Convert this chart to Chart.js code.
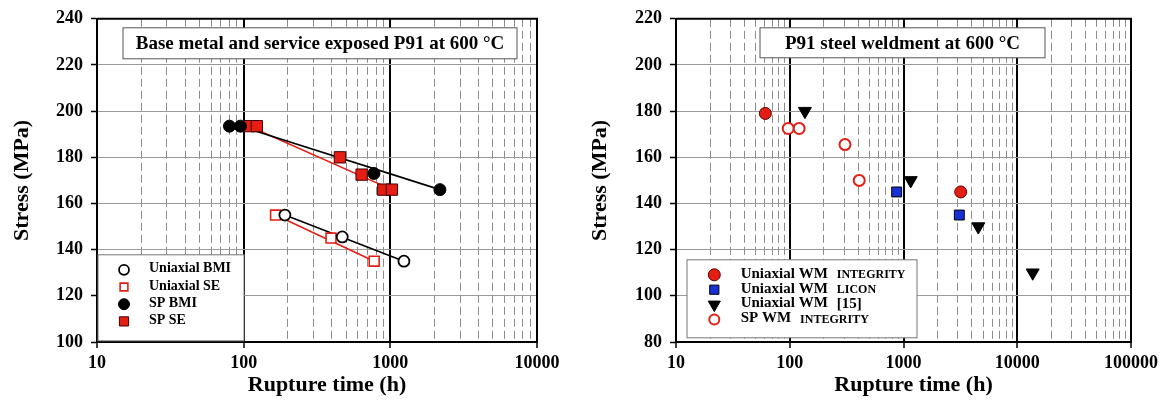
<!DOCTYPE html>
<html>
<head>
<meta charset="utf-8">
<script src="https://cdn.jsdelivr.net/npm/chart.js@4.4.1/dist/chart.umd.min.js"></script>
<style>
  body { margin: 0; background: #fff; }
  .panel { position: absolute; top: 0; width: 583px; height: 416px; }
  #left { left: 0; }
  #right { left: 583px; }
</style>
</head>
<body>
<div class="panel" id="left"><canvas id="baseChart"></canvas></div>
<div class="panel" id="right"><canvas id="weldChart"></canvas></div>
<script>
// Base metal (BMI) and service exposed (SE) P91, rupture time (h) vs stress (MPa)
const uniBmiTime = [191, 470, 1238];
const uniBmiStress = [155, 145.5, 135];
const uniSeTime = [165, 394, 776];
const uniSeStress = [155, 145, 135];
const spBmiTime = [80, 95, 773, 2178];
const spBmiStress = [193.5, 193.5, 173, 166];
const spSeTime = [109, 123, 453, 637, 895, 1025];
const spSeStress = [193.5, 193.5, 180, 172.5, 166, 166];

// trend lines through each series
const spBmiFitTime = [95, 2178];
const spBmiFitStress = [193.5, 166];
const spSeFitTime = [109, 1025];
const spSeFitStress = [193.5, 166];
const uniBmiFitTime = [191, 1238];
const uniBmiFitStress = [155, 135];
const uniSeFitTime = [165, 776];
const uniSeFitStress = [155, 135];

// Weld metal (WM)
const wmIntTime = [61, 3184];
const wmIntStress = [179, 145];
const wmLiconTime = [871, 3095];
const wmLiconStress = [145, 135];
const wmRefTime = [136, 1157, 4545, 13670];
const wmRefStress = [180, 150, 130, 110];
const spWmTime = [97, 121, 306, 408];
const spWmStress = [172.5, 172.5, 165.5, 150];

// axis ticks
const baseTimeTicks = [10, 100, 1000, 10000];
const baseStressTicks = [100, 120, 140, 160, 180, 200, 220, 240];
const weldTimeTicks = [10, 100, 1000, 10000, 100000];
const weldStressTicks = [80, 100, 120, 140, 160, 180, 200, 220];

const SERIF = "'Liberation Serif', 'Times New Roman', serif";
const RED = '#e41e12';
const BLUE = '#1630d8';

Chart.defaults.font.family = SERIF;
Chart.defaults.font.weight = 'bold';
Chart.defaults.color = '#000';

function pts(xs, ys) {
    return xs.map((x, i) => ({ x: x, y: ys[i] }));
}

function minorTicks(decades) {
    const out = [];
    for (let i = 0; i < decades.length - 1; i++) {
        for (let k = 2; k <= 9; k++) out.push(decades[i] * k);
    }
    return out;
}

function marks(label, xs, ys, s) {
    return {
        label: label,
        note: s.note,
        noteSize: s.noteSize,
        data: pts(xs, ys),
        showLine: false,
        pointStyle: s.shape,
        pointRotation: s.rot || 0,
        pointRadius: s.r,
        pointHoverRadius: s.r,
        pointBackgroundColor: s.fill,
        pointBorderColor: s.stroke,
        pointBorderWidth: s.bw,
        legendRadius: s.lr || s.r
    };
}

function fitLine(xs, ys, color) {
    return {
        isFit: true,
        data: pts(xs, ys),
        showLine: true,
        borderColor: color,
        borderWidth: 1.6,
        pointRadius: 0,
        pointHoverRadius: 0,
        fill: false
    };
}

function makeScales(timeTicks, stressTicks, yWidth, yTitlePad) {
    const tMin = timeTicks[0], tMax = timeTicks[timeTicks.length - 1];
    return {
        x: {
            type: 'logarithmic',
            min: tMin,
            max: tMax,
            afterBuildTicks: s => { s.ticks = timeTicks.map(v => ({ value: v })); },
            afterFit: s => { s.height = 74; },
            grid: { color: '#000', lineWidth: 2, tickColor: '#000', tickLength: 6, tickWidth: 1.5 },
            border: { color: '#000', width: 2 },
            ticks: { font: { size: 18 }, padding: 5, maxRotation: 0, autoSkip: false, callback: v => String(v) }
        },
        xMinor: {
            type: 'logarithmic',
            position: 'bottom',
            min: tMin,
            max: tMax,
            afterBuildTicks: s => { s.ticks = minorTicks(timeTicks).map(v => ({ value: v })); },
            afterFit: s => { s.height = 0; },
            grid: { color: '#8c8c8c', lineWidth: 1, drawTicks: false },
            border: { display: false, dash: [8, 4] },
            ticks: { display: false }
        },
        y: {
            min: stressTicks[0],
            max: stressTicks[stressTicks.length - 1],
            afterBuildTicks: s => { s.ticks = stressTicks.map(v => ({ value: v })); },
            afterFit: s => { s.width = yWidth; },
            grid: { color: '#9a9a9a', lineWidth: 1, tickColor: '#000', tickLength: 6, tickWidth: 1.5 },
            border: { color: '#000', width: 2 },
            ticks: { font: { size: 18 }, padding: 8 },
            title: {
                display: true,
                text: 'Stress (MPa)',
                font: { size: 22 },
                padding: { top: yTitlePad, bottom: 0 }
            }
        }
    };
}

// plot frame, boxed heading, legend and x-axis title
const panelDecor = {
    id: 'panelDecor',
    afterDatasetsDraw(chart, args, o) {
        const ctx = chart.ctx;
        const a = chart.chartArea;
        ctx.save();

        ctx.strokeStyle = '#000';
        ctx.lineWidth = 2;
        ctx.beginPath();
        ctx.moveTo(a.left, a.top);
        ctx.lineTo(a.right, a.top);
        ctx.lineTo(a.right, a.bottom);
        ctx.stroke();

        const h = o.heading;
        ctx.fillStyle = '#fff';
        ctx.fillRect(a.left + h.x, a.top + h.y, h.w, h.h);
        ctx.strokeStyle = '#555';
        ctx.lineWidth = 1;
        ctx.strokeRect(a.left + h.x, a.top + h.y, h.w, h.h);
        ctx.fillStyle = '#000';
        ctx.font = 'bold 19px ' + SERIF;
        ctx.textAlign = 'center';
        ctx.textBaseline = 'middle';
        ctx.fillText(h.text, a.left + h.x + h.w / 2, a.top + h.y + h.h / 2 + 1);

        const L = o.legend;
        ctx.fillStyle = '#fff';
        ctx.fillRect(a.left + L.x, a.top + L.y, L.w, L.h);
        ctx.strokeStyle = '#777';
        ctx.strokeRect(a.left + L.x, a.top + L.y, L.w, L.h);
        let row = 0;
        chart.data.datasets.forEach(ds => {
            if (ds.isFit) return;
            const y = a.top + L.first + row * L.step;
            ctx.fillStyle = ds.pointBackgroundColor;
            ctx.strokeStyle = ds.pointBorderColor;
            ctx.lineWidth = ds.pointBorderWidth;
            Chart.helpers.drawPoint(ctx, {
                pointStyle: ds.pointStyle,
                rotation: ds.pointRotation,
                radius: ds.legendRadius,
                borderWidth: ds.pointBorderWidth
            }, a.left + L.markX, y);
            ctx.fillStyle = '#000';
            ctx.textAlign = 'left';
            ctx.font = 'bold ' + L.size + 'px ' + SERIF;
            ctx.fillText(ds.label, a.left + L.textX, y - 1);
            if (ds.note) {
                const w = ctx.measureText(ds.label).width;
                ctx.font = 'bold ' + (ds.noteSize || 12) + 'px ' + SERIF;
                ctx.fillText(ds.note, a.left + L.textX + w + 9, y);
            }
            row++;
        });

        ctx.font = 'bold 22px ' + SERIF;
        ctx.textAlign = 'center';
        ctx.fillText('Rupture time (h)', (a.left + a.right) / 2 + 10, 385);
        ctx.restore();
    }
};

function makeOptions(scales, decor) {
    return {
        responsive: true,
        maintainAspectRatio: false,
        animation: false,
        layout: { padding: decor.padding },
        scales: scales,
        plugins: {
            legend: { display: false },
            tooltip: { enabled: false },
            panelDecor: decor
        }
    };
}

document.addEventListener('DOMContentLoaded', function () {
    const ctx1 = document.getElementById('baseChart').getContext('2d');
    new Chart(ctx1, {
        type: 'scatter',
        data: {
            datasets: [
                marks('Uniaxial BMI', uniBmiTime, uniBmiStress, { shape: 'circle', r: 5.5, lr: 5, fill: '#fff', stroke: '#000', bw: 1.8 }),
                marks('Uniaxial SE', uniSeTime, uniSeStress, { shape: 'rect', r: 7, lr: 5.5, fill: '#fff', stroke: RED, bw: 1.6 }),
                marks('SP BMI', spBmiTime, spBmiStress, { shape: 'circle', r: 6, lr: 5.5, fill: '#000', stroke: '#000', bw: 1 }),
                marks('SP SE', spSeTime, spSeStress, { shape: 'rect', r: 8, lr: 6.5, fill: RED, stroke: '#400', bw: 1 }),
                fitLine(spBmiFitTime, spBmiFitStress, '#000'),
                fitLine(spSeFitTime, spSeFitStress, RED),
                fitLine(uniBmiFitTime, uniBmiFitStress, '#000'),
                fitLine(uniSeFitTime, uniSeFitStress, RED)
            ]
        },
        options: makeOptions(makeScales(baseTimeTicks, baseStressTicks, 97, 9), {
            padding: { left: 0, right: 46, top: 14, bottom: 0 },
            heading: { text: 'Base metal and service exposed P91 at 600 °C', x: 26, y: 9, w: 394, h: 31 },
            legend: { x: 1, y: 236, w: 146, h: 86, markX: 27, textX: 52, first: 251, step: 17.2, size: 14 }
        }),
        plugins: [panelDecor]
    });

    const ctx2 = document.getElementById('weldChart').getContext('2d');
    new Chart(ctx2, {
        type: 'scatter',
        data: {
            datasets: [
                marks('Uniaxial WM', wmIntTime, wmIntStress, { shape: 'circle', r: 6, lr: 6, fill: RED, stroke: '#500', bw: 1, note: 'INTEGRITY' }),
                marks('Uniaxial WM', wmLiconTime, wmLiconStress, { shape: 'rect', r: 7, lr: 6.5, fill: BLUE, stroke: '#000', bw: 1, note: 'LICON' }),
                marks('Uniaxial WM', wmRefTime, wmRefStress, { shape: 'triangle', rot: 180, r: 7.5, lr: 7, fill: '#000', stroke: '#000', bw: 1, note: '[15]', noteSize: 15 }),
                marks('SP WM', spWmTime, spWmStress, { shape: 'circle', r: 5.5, lr: 5, fill: '#fff', stroke: RED, bw: 2, note: 'INTEGRITY' })
            ]
        },
        options: makeOptions(makeScales(weldTimeTicks, weldStressTicks, 93, 4), {
            padding: { left: 0, right: 35, top: 14, bottom: 0 },
            heading: { text: 'P91 steel weldment at 600 °C', x: 84, y: 9, w: 285, h: 30 },
            legend: { x: 11, y: 241, w: 230, h: 78, markX: 38.3, textX: 64.7, first: 256, step: 14.9, size: 15 }
        }),
        plugins: [panelDecor]
    });
});
</script>
</body>
</html>
